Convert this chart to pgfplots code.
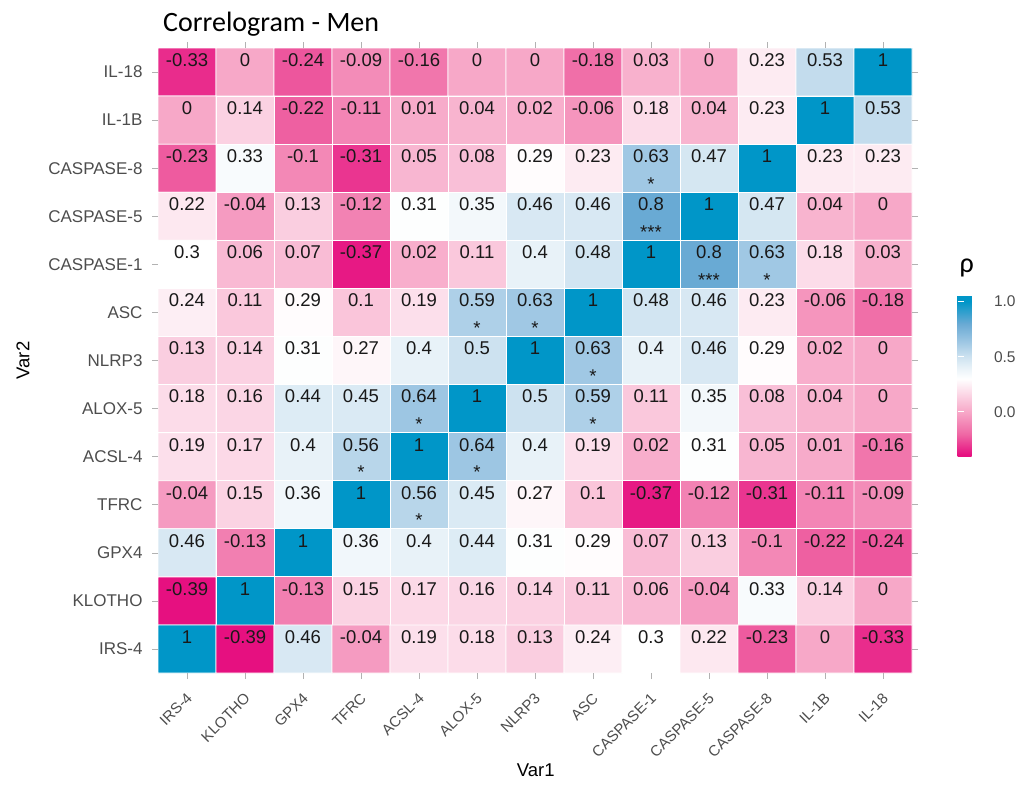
\documentclass[border=0pt]{standalone}
\usepackage{pgfplots}
\pgfplotsset{compat=1.18}
\usepackage{pgfplotstable}
\usepackage{fontspec}
\setmainfont{Liberation Sans}
\newfontfamily\titlefont{Carlito}
\definecolor{tickgrey}{RGB}{77,77,77}
\definecolor{celltext}{RGB}{25,25,25}

% y = row index counted from the top (0 = IL-18 ... 12 = IRS-4)
\pgfplotstableread{
x y v
0 0 -0.33
1 0 0
2 0 -0.24
3 0 -0.09
4 0 -0.16
5 0 0
6 0 0
7 0 -0.18
8 0 0.03
9 0 0
10 0 0.23
11 0 0.53
12 0 1
0 1 0
1 1 0.14
2 1 -0.22
3 1 -0.11
4 1 0.01
5 1 0.04
6 1 0.02
7 1 -0.06
8 1 0.18
9 1 0.04
10 1 0.23
11 1 1
12 1 0.53
0 2 -0.23
1 2 0.33
2 2 -0.1
3 2 -0.31
4 2 0.05
5 2 0.08
6 2 0.29
7 2 0.23
8 2 0.63
9 2 0.47
10 2 1
11 2 0.23
12 2 0.23
0 3 0.22
1 3 -0.04
2 3 0.13
3 3 -0.12
4 3 0.31
5 3 0.35
6 3 0.46
7 3 0.46
8 3 0.8
9 3 1
10 3 0.47
11 3 0.04
12 3 0
0 4 0.3
1 4 0.06
2 4 0.07
3 4 -0.37
4 4 0.02
5 4 0.11
6 4 0.4
7 4 0.48
8 4 1
9 4 0.8
10 4 0.63
11 4 0.18
12 4 0.03
0 5 0.24
1 5 0.11
2 5 0.29
3 5 0.1
4 5 0.19
5 5 0.59
6 5 0.63
7 5 1
8 5 0.48
9 5 0.46
10 5 0.23
11 5 -0.06
12 5 -0.18
0 6 0.13
1 6 0.14
2 6 0.31
3 6 0.27
4 6 0.4
5 6 0.5
6 6 1
7 6 0.63
8 6 0.4
9 6 0.46
10 6 0.29
11 6 0.02
12 6 0
0 7 0.18
1 7 0.16
2 7 0.44
3 7 0.45
4 7 0.64
5 7 1
6 7 0.5
7 7 0.59
8 7 0.11
9 7 0.35
10 7 0.08
11 7 0.04
12 7 0
0 8 0.19
1 8 0.17
2 8 0.4
3 8 0.56
4 8 1
5 8 0.64
6 8 0.4
7 8 0.19
8 8 0.02
9 8 0.31
10 8 0.05
11 8 0.01
12 8 -0.16
0 9 -0.04
1 9 0.15
2 9 0.36
3 9 1
4 9 0.56
5 9 0.45
6 9 0.27
7 9 0.1
8 9 -0.37
9 9 -0.12
10 9 -0.31
11 9 -0.11
12 9 -0.09
0 10 0.46
1 10 -0.13
2 10 1
3 10 0.36
4 10 0.4
5 10 0.44
6 10 0.31
7 10 0.29
8 10 0.07
9 10 0.13
10 10 -0.1
11 10 -0.22
12 10 -0.24
0 11 -0.39
1 11 1
2 11 -0.13
3 11 0.15
4 11 0.17
5 11 0.16
6 11 0.14
7 11 0.11
8 11 0.06
9 11 -0.04
10 11 0.33
11 11 0.14
12 11 0
0 12 1
1 12 -0.39
2 12 0.46
3 12 -0.04
4 12 0.19
5 12 0.18
6 12 0.13
7 12 0.24
8 12 0.3
9 12 0.22
10 12 -0.23
11 12 0
12 12 -0.33
}\corrdata

\pgfplotstableread{
x y s
8 2 *
8 3 ***
9 4 ***
10 4 *
5 5 *
6 5 *
7 6 *
4 7 *
7 7 *
3 8 *
5 8 *
4 9 *
}\stardata

\begin{document}
\begin{tikzpicture}
\path[use as bounding box] (0,0) rectangle (1017bp,791bp);
\begin{axis}[
  at={(158bp,118bp)}, anchor=south west,
  scale only axis, width=754bp, height=625bp,
  xmin=-0.5, xmax=12.5, ymin=-0.5, ymax=12.5,
  y dir=reverse,
  enlargelimits=false,
  axis line style={draw=none},
  tick align=outside, major tick length=6bp,
  tick style={color=black!30, line width=0.6pt},
  xtick={0,...,12}, ytick={0,...,12},
  xticklabels={IRS-4,KLOTHO,GPX4,TFRC,ACSL-4,ALOX-5,NLRP3,ASC,CASPASE-1,CASPASE-5,CASPASE-8,IL-1B,IL-18},
  yticklabels={IL-18,IL-1B,CASPASE-8,CASPASE-5,CASPASE-1,ASC,NLRP3,ALOX-5,ACSL-4,TFRC,GPX4,KLOTHO,IRS-4},
  xticklabel style={rotate=45, anchor=north east, font=\fontsize{15bp}{18bp}\selectfont, text=tickgrey, inner sep=2bp, yshift=-6bp, xshift=-8bp},
  yticklabel style={font=\fontsize{17bp}{20bp}\selectfont, text=tickgrey, xshift=-6bp},
  xlabel={Var1}, ylabel={Var2},
  xlabel style={at={(axis description cs:0.501,-0.155)}, anchor=center, font=\fontsize{18.5bp}{22bp}\selectfont},
  ylabel style={at={(axis description cs:-0.179,0.5)}, anchor=center, font=\fontsize{18.5bp}{22bp}\selectfont},
  colormap={corr}{
    rgb255(0)=(230,16,128);
    rgb255(2)=(230,16,128);
    rgb255(21)=(239,105,165);
    rgb255(41)=(247,168,200);
    rgb255(71)=(255,255,255);
    rgb255(81)=(232,242,248);
    rgb255(91)=(205,226,240);
    rgb255(104)=(160,200,228);
    rgb255(121)=(105,170,212);
    rgb255(141)=(0,150,200);
    rgb255(147)=(0,150,200)
  },
  point meta min=-0.41, point meta max=1.06,
  colorbar,
  colorbar style={
    at={(parent axis.south east)}, anchor=south west,
    xshift=37bp, yshift=216bp,
    scale only axis, width=33bp, height=162bp,
    y dir=normal,
    axis line style={draw=none},
    ytick={0,0.5,1}, yticklabels={0.0,0.5,1.0},
    ytick pos=both, yticklabel pos=right, tick align=inside,
    major tick length=6bp,
    ytick style={color=white, line width=0.8pt},
    yticklabel style={font=\fontsize{15.5bp}{18bp}\selectfont, text=tickgrey},
    title={\titlefont\fontsize{28bp}{32bp}\selectfont ρ},
    title style={at={(0,1)}, anchor=base west, yshift=17bp, xshift=2bp, inner sep=0pt},
  },
]
\addplot[matrix plot, mesh/cols=13, shader=faceted, faceted color=white, line width=0.8pt, point meta=explicit]
  table[x=x, y=y, meta=v] {\corrdata};
\addplot[draw=none, mark=none, nodes near coords, point meta=explicit symbolic,
  every node near coord/.append style={anchor=center, yshift=12bp, text=celltext, font=\fontsize{18.5bp}{22bp}\selectfont}]
  table[x=x, y=y, meta=v] {\corrdata};
\addplot[draw=none, mark=none, nodes near coords, point meta=explicit symbolic,
  every node near coord/.append style={anchor=base, yshift=-22bp, text=celltext, font=\fontsize{18.5bp}{22bp}\selectfont}]
  table[x=x, y=y, meta=s] {\stardata};
\end{axis}
\node[anchor=base west, inner sep=0pt, font=\titlefont\fontsize{28bp}{32bp}\selectfont] at (163bp,759bp) {Correlogram - Men};
\end{tikzpicture}
\end{document}
